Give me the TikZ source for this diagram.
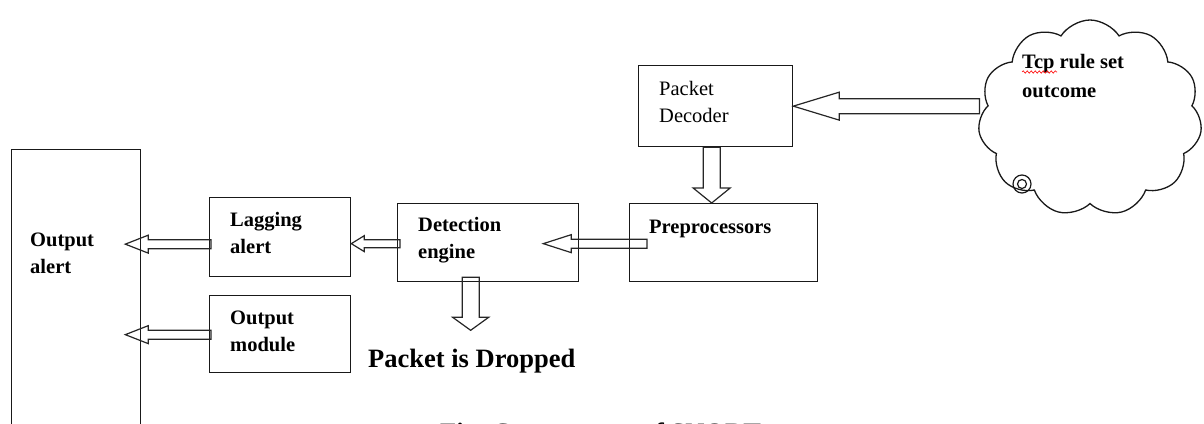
\documentclass[tikz,border=0pt]{standalone}
\usepackage{fontspec}
\setmainfont{Liberation Serif}
\usetikzlibrary{positioning, calc, shapes.symbols, decorations.pathmorphing}

\tikzset{
  box/.style={draw=black!90, line width=1.3pt, anchor=north west, inner sep=0pt},
  boxtext/.style={font=\fontsize{20.5}{27}\selectfont\bfseries, align=left, anchor=base west, inner sep=0pt},
  plaintext/.style={boxtext, font=\fontsize{20.5}{27}\selectfont\mdseries},
  bigtext/.style={font=\fontsize{26.5}{30}\selectfont\bfseries, anchor=base west, inner sep=0pt},
  fatline/.style={draw=black!85, line width=1.2pt, line join=miter},
}

% hollow block arrow: tail, tip, shaft half width, head half width, head length
\newcommand{\fatarrow}[5]{%
  \path let \p1=(#1), \p2=(#2) in \pgfextra{%
    \pgfmathsetmacro\fatang{atan2(\y2-\y1,\x2-\x1)}\global\let\fatang\fatang
    \pgfmathsetmacro\fatlen{veclen(\x2-\x1,\y2-\y1)}\global\let\fatlen\fatlen};
  \draw[fatline, shift={(#1)}, rotate=\fatang]
    (0,-#3) -- ({\fatlen-#5},-#3) -- ({\fatlen-#5},-#4) -- (\fatlen,0)
    -- ({\fatlen-#5},#4) -- ({\fatlen-#5},#3) -- (0,#3) -- cycle;
}

\begin{document}
\begin{tikzpicture}[x=1pt, y=-1pt]
  \useasboundingbox (0,0) rectangle (1204,423);

  % Boxes
  \node[box, minimum width=129, minimum height=300] (outalert) at (11,149) {};
  \node[box, minimum width=141, minimum height=79] (lagging) at (209,197) {};
  \node[box, minimum width=141, minimum height=77] (outmodule) at (209,295) {};
  \node[box, minimum width=181, minimum height=78] (detect) at (397,203) {};
  \node[box, minimum width=188, minimum height=78] (preproc) at (629,203) {};
  \node[box, minimum width=154, minimum height=81] (decoder) at (638,65) {};
  \node[cloud, draw=black!90, line width=1.3pt, cloud puffs=11, cloud puff arc=115, aspect=1.1,
        minimum width=224, minimum height=196, inner sep=0pt] (cloud) at (1090,118) {};
  \draw[black!90, line width=1.2pt] ($(cloud.center)+(-68,66)$) circle (9);
  \draw[black!90, line width=1.2pt] ($(cloud.center)+(-68,66)$) circle (4.5);

  % Texts
  \node[boxtext] (outalerttxt) at ($(outalert.north west)+(19,124)$) {Output\\alert};
  \node[boxtext] (laggingtxt) at ($(lagging.north west)+(21,56)$) {Lagging\\alert};
  \node[boxtext] (outmoduletxt) at ($(outmodule.north west)+(21,56)$) {Output\\module};
  \node[boxtext] (detecttxt) at ($(detect.north west)+(21,55)$) {Detection\\engine};
  \node[boxtext] (preproctxt) at ($(preproc.north west)+(20,30)$) {Preprocessors};
  \node[plaintext] (decodertxt) at ($(decoder.north west)+(21,57)$) {Packet\\Decoder};
  \node[boxtext, font=\fontsize{20.5}{29}\selectfont\bfseries] (cloudtxt) at (1022,97) {Tcp rule set\\outcome};
  \draw[red, line width=0.6pt, decorate, decoration={snake, amplitude=1.2pt, segment length=4pt}]
    ($(cloudtxt.base west)+(0,-25)$) -- ++(35,0);
  \node[bigtext] (dropped) at (368,367) {Packet is Dropped};
  \node[bigtext] (caption) at (440,441) {Fig. Components of SNORT};

  % Arrow ends
  \coordinate (cloudout) at (cloud.west |- decoder.east);
  \coordinate (decout) at ($(decoder.south)+(-4,0)$);
  \coordinate (prein) at (decout |- preproc.north);
  \coordinate (preout) at ($(preproc.west)+(18,1)$);
  \coordinate (detin) at ($(detect.east)+(-36,1)$);
  \coordinate (detout) at ($(detect.west)+(3,1)$);
  \coordinate (lagin) at (lagging.east |- detout);
  \coordinate (lagout) at ($(lagging.west)+(2,7)$);
  \coordinate (alertin1) at ($(outalert.east |- lagout)+(-16,0)$);
  \coordinate (modout) at ($(outmodule.west)+(2,0.5)$);
  \coordinate (alertin2) at ($(outalert.east |- modout)+(-16,0)$);
  \coordinate (detdown) at ($(detect.south)+(-17.5,-5)$);
  \coordinate (drop) at ($(detdown)+(0,53)$);

  % Arrows
  \fatarrow{cloudout}{decoder.east}{7.5}{14}{46}
  \fatarrow{decout}{prein}{8.5}{18.5}{15}
  \fatarrow{preout}{detin}{4.5}{9}{28}
  \fatarrow{detout}{lagin}{4}{8}{13}
  \fatarrow{lagout}{alertin1}{4.5}{9}{23}
  \fatarrow{modout}{alertin2}{4.5}{9}{23}
  \fatarrow{detdown}{drop}{8.5}{18}{13}
\end{tikzpicture}
\end{document}
